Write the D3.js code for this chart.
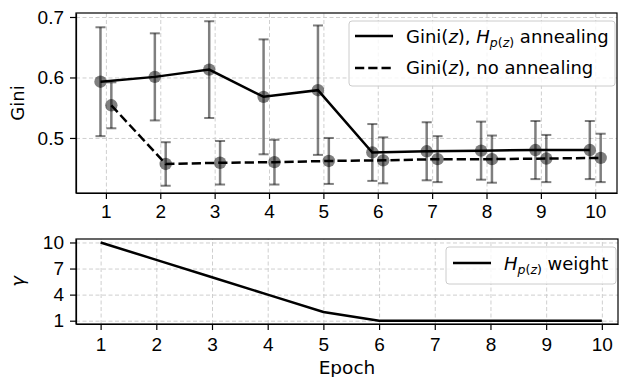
<!DOCTYPE html>
<html>
<head>
<meta charset="utf-8">
<script src="https://cdn.jsdelivr.net/npm/d3@7"></script>
<style>
  html, body { margin: 0; padding: 0; background: #fff; }
  svg { display: block; font-family: 'DejaVu Sans', sans-serif; }
  .grid line { stroke: #cfcfcf; stroke-width: 1; stroke-dasharray: 4,2.5; }
  .grid path { display: none; }
  .axis path, .axis line { stroke: #000; stroke-width: 1.2; }
  .axis text { font-size: 19px; fill: #000; }
</style>
</head>
<body>
<div id="chart"></div>
<script>
// Data
const epochs = [1, 2, 3, 4, 5, 6, 7, 8, 9, 10];
const giniAnneal = [0.593, 0.601, 0.613, 0.568, 0.579, 0.476, 0.478, 0.479, 0.480, 0.480];
const giniAnnealErr = [0.090, 0.072, 0.080, 0.095, 0.107, 0.047, 0.048, 0.048, 0.048, 0.048];
const giniNoAnneal = [0.554, 0.457, 0.459, 0.460, 0.462, 0.463, 0.465, 0.465, 0.466, 0.467];
const giniNoAnnealErr = [0.038, 0.036, 0.036, 0.037, 0.038, 0.038, 0.038, 0.039, 0.039, 0.040];
const gammaWeight = [10, 8, 6, 4, 2, 1, 1, 1, 1, 1];
const giniTicks = [0.5, 0.6, 0.7];
const gammaTicks = [1, 4, 7, 10];

const W = 619, H = 377;
const svg = d3.select('#chart').append('svg').attr('width', W).attr('height', H);

// Axes boxes (px)
const boxTop = { left: 76, right: 617, top: 13, bottom: 193 };
const boxBot = { left: 76, right: 618, top: 239, bottom: 324 };

const xTop = d3.scaleLinear().domain([0.45, 10.4]).range([boxTop.left, boxTop.right]);
const yTop = d3.scaleLinear().domain([0.409, 0.7066]).range([boxTop.bottom, boxTop.top]);
const xBot = d3.scaleLinear().domain([0.558, 10.29]).range([boxBot.left, boxBot.right]);
const yBot = d3.scaleLinear().domain([0.62, 10.4]).range([boxBot.bottom, boxBot.top]);

const LW = 2.5;
const DASH = '9.25,4';

function drawGrid(x, y, box, yTicks) {
  svg.append('g').attr('class', 'grid')
    .attr('transform', `translate(0,${box.bottom})`)
    .call(d3.axisBottom(x).tickValues(epochs).tickSize(-(box.bottom - box.top)).tickFormat(''));
  svg.append('g').attr('class', 'grid')
    .attr('transform', `translate(${box.left},0)`)
    .call(d3.axisLeft(y).tickValues(yTicks).tickSize(-(box.right - box.left)).tickFormat(''));
}

function drawAxes(x, y, box, yTicks, yFmt, xPad) {
  svg.append('g').attr('class', 'axis')
    .attr('transform', `translate(0,${box.bottom})`)
    .call(d3.axisBottom(x).tickValues(epochs).tickSize(6).tickPadding(xPad).tickSizeOuter(0).tickFormat(d3.format('d')));
  svg.append('g').attr('class', 'axis')
    .attr('transform', `translate(${box.left},0)`)
    .call(d3.axisLeft(y).tickValues(yTicks).tickSize(6).tickPadding(6).tickSizeOuter(0).tickFormat(yFmt));
  svg.append('rect')
    .attr('x', box.left).attr('y', box.top)
    .attr('width', box.right - box.left).attr('height', box.bottom - box.top)
    .attr('fill', 'none').attr('stroke', '#000').attr('stroke-width', 1.2);
}

// ---- Top panel: Gini ----
drawGrid(xTop, yTop, boxTop, giniTicks);

const series = [
  { vals: giniAnneal, err: giniAnnealErr, dx: -0.1, dash: null },
  { vals: giniNoAnneal, err: giniNoAnnealErr, dx: 0.1, dash: DASH }
];

series.forEach(s => {
  const g = svg.append('g');
  // error bars
  g.selectAll('.eb').data(epochs).enter().append('line')
    .attr('x1', (d) => xTop(d + s.dx)).attr('x2', (d) => xTop(d + s.dx))
    .attr('y1', (d, i) => yTop(s.vals[i] - s.err[i]))
    .attr('y2', (d, i) => yTop(s.vals[i] + s.err[i]))
    .attr('stroke', '#000').attr('stroke-opacity', 0.5).attr('stroke-width', 2.5);
  [-1, 1].forEach(sign => {
    g.selectAll('.cap').data(epochs).enter().append('line')
      .attr('x1', (d) => xTop(d + s.dx) - 5).attr('x2', (d) => xTop(d + s.dx) + 5)
      .attr('y1', (d, i) => yTop(s.vals[i] + sign * s.err[i]))
      .attr('y2', (d, i) => yTop(s.vals[i] + sign * s.err[i]))
      .attr('stroke', '#000').attr('stroke-opacity', 0.5).attr('stroke-width', 2);
  });
  // markers
  g.selectAll('.dot').data(epochs).enter().append('circle')
    .attr('cx', (d) => xTop(d + s.dx))
    .attr('cy', (d, i) => yTop(s.vals[i]))
    .attr('r', 6.2)
    .attr('fill', '#000').attr('fill-opacity', 0.5);
});

series.forEach(s => {
  const line = d3.line()
    .x((d) => xTop(d + s.dx))
    .y((d, i) => yTop(s.vals[i]));
  svg.append('path').datum(epochs)
    .attr('d', line)
    .attr('fill', 'none').attr('stroke', '#000').attr('stroke-width', LW)
    .attr('stroke-dasharray', s.dash);
});

drawAxes(xTop, yTop, boxTop, giniTicks, d3.format('.1f'), 6);

svg.append('text')
  .attr('transform', `translate(24,${(boxTop.top + boxTop.bottom) / 2}) rotate(-90)`)
  .attr('text-anchor', 'middle').attr('font-size', 18).text('Gini');

// legend helper: label parts [{t, italic, sub}]
function legendText(x, y, parts) {
  const t = svg.append('text').attr('x', x).attr('y', y).attr('font-size', 18);
  parts.forEach(p => {
    const ts = t.append('tspan').text(p.t);
    if (p.italic) ts.attr('font-style', 'italic');
    if (p.sub) ts.attr('font-size', 12.5);
    if (p.dy) ts.attr('dy', p.dy);
  });
}

// Top legend
svg.append('rect')
  .attr('x', 349).attr('y', 21).attr('width', 266).attr('height', 65).attr('rx', 3)
  .attr('fill', '#fff').attr('fill-opacity', 0.8).attr('stroke', '#ccc');
svg.append('line').attr('x1', 355).attr('x2', 393).attr('y1', 36).attr('y2', 36)
  .attr('stroke', '#000').attr('stroke-width', LW);
svg.append('line').attr('x1', 355).attr('x2', 393).attr('y1', 68).attr('y2', 68)
  .attr('stroke', '#000').attr('stroke-width', LW).attr('stroke-dasharray', DASH);
legendText(406, 43, [
  { t: 'Gini(' }, { t: 'z', italic: true }, { t: '), ' }, { t: 'H', italic: true },
  { t: 'p', italic: true, sub: true, dy: 4 }, { t: '(', sub: true }, { t: 'z', italic: true, sub: true },
  { t: ')', sub: true }, { t: ' annealing', dy: -4 }
]);
legendText(406, 74, [
  { t: 'Gini(' }, { t: 'z', italic: true }, { t: '), no annealing' }
]);

// ---- Bottom panel: gamma ----
drawGrid(xBot, yBot, boxBot, gammaTicks);

svg.append('path').datum(epochs)
  .attr('d', d3.line().x((d) => xBot(d)).y((d, i) => yBot(gammaWeight[i])))
  .attr('fill', 'none').attr('stroke', '#000').attr('stroke-width', LW);

drawAxes(xBot, yBot, boxBot, gammaTicks, d3.format('d'), 7.5);

svg.append('text')
  .attr('transform', `translate(24,${(boxBot.top + boxBot.bottom) / 2}) rotate(-90)`)
  .attr('text-anchor', 'middle').attr('font-size', 18).attr('font-style', 'italic').text('γ');

svg.append('text')
  .attr('x', (boxBot.left + boxBot.right) / 2).attr('y', 374)
  .attr('text-anchor', 'middle').attr('font-size', 18.5).text('Epoch');

// Bottom legend
svg.append('rect')
  .attr('x', 446).attr('y', 247).attr('width', 170).attr('height', 37).attr('rx', 3)
  .attr('fill', '#fff').attr('fill-opacity', 0.8).attr('stroke', '#ccc');
svg.append('line').attr('x1', 453).attr('x2', 491).attr('y1', 263).attr('y2', 263)
  .attr('stroke', '#000').attr('stroke-width', LW);
legendText(504, 270, [
  { t: 'H', italic: true }, { t: 'p', italic: true, sub: true, dy: 4 }, { t: '(', sub: true },
  { t: 'z', italic: true, sub: true }, { t: ')', sub: true }, { t: ' weight', dy: -4 }
]);
</script>
</body>
</html>
